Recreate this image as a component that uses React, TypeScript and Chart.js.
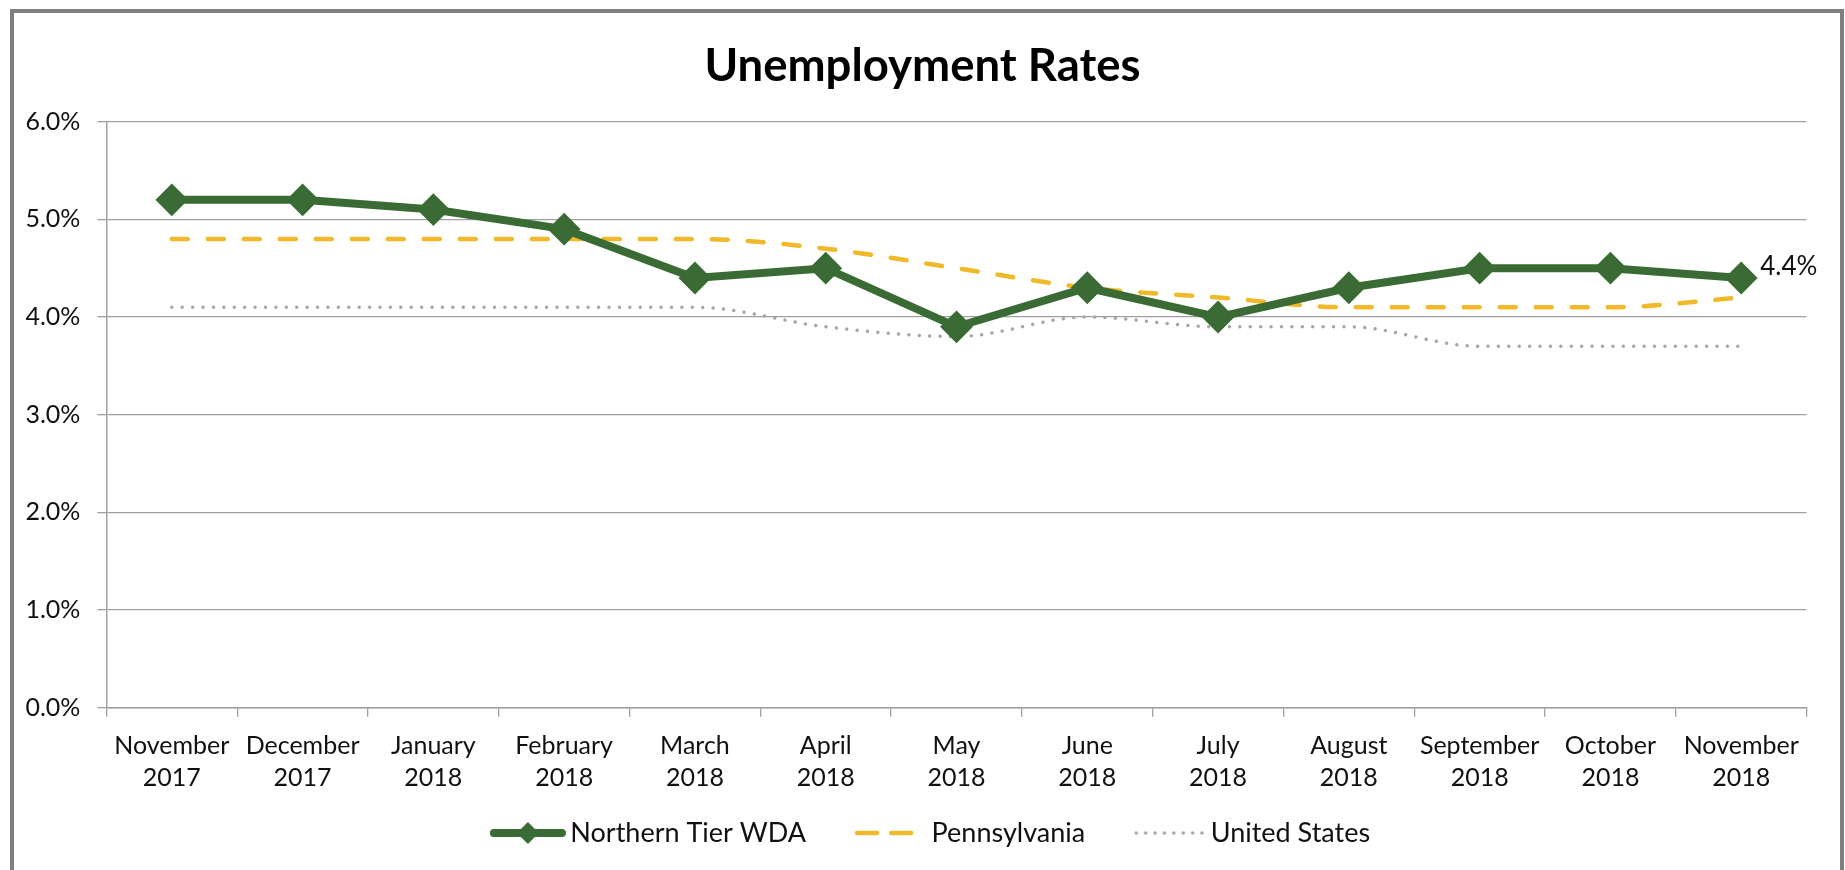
import React, { useEffect, useRef } from 'react';
import { Chart, registerables } from 'chart.js';

Chart.register(...registerables);

const categories: string[][] = [
  ['November', '2017'],
  ['December', '2017'],
  ['January', '2018'],
  ['February', '2018'],
  ['March', '2018'],
  ['April', '2018'],
  ['May', '2018'],
  ['June', '2018'],
  ['July', '2018'],
  ['August', '2018'],
  ['September', '2018'],
  ['October', '2018'],
  ['November', '2018'],
];
const northernTier = [5.2, 5.2, 5.1, 4.9, 4.4, 4.5, 3.9, 4.3, 4.0, 4.3, 4.5, 4.5, 4.4];
const pennsylvania = [4.8, 4.8, 4.8, 4.8, 4.8, 4.7, 4.5, 4.3, 4.2, 4.1, 4.1, 4.1, 4.2];
const unitedStates = [4.1, 4.1, 4.1, 4.1, 4.1, 3.9, 3.8, 4.0, 3.9, 3.9, 3.7, 3.7, 3.7];
const seriesNames = ['Northern Tier WDA', 'Pennsylvania', 'United States'];
const yMin = 0;
const yMax = 6;
const yStep = 1;
const titleText = 'Unemployment Rates';

const FONT = 'Lato, "Open Sans", sans-serif';
const GREEN = '#3a6b35';
const GOLD = '#f0b929';
const GRAY = '#a6a6a6';
const GRID = '#a0a0a0';
const TEXT = '#111111';

// legend geometry
const LEG_FONT = 27;
const LEG_PAD = 30;
const LEG_BOX = 82;
const SYM_W = 100;
const SYM_OFF = 24;

function makeSymbol(kind: 'green' | 'gold' | 'gray'): HTMLCanvasElement {
  const c = document.createElement('canvas');
  c.width = SYM_W;
  c.height = 26;
  const g = c.getContext('2d')!;
  const cy = 13;
  const x0 = SYM_OFF;
  g.lineCap = 'round';
  if (kind === 'green') {
    g.strokeStyle = GREEN;
    g.lineWidth = 8;
    g.beginPath();
    g.moveTo(x0 + 4, cy);
    g.lineTo(x0 + 72, cy);
    g.stroke();
    g.fillStyle = GREEN;
    g.beginPath();
    g.moveTo(x0 + 38 - 11, cy);
    g.lineTo(x0 + 38, cy - 11);
    g.lineTo(x0 + 38 + 11, cy);
    g.lineTo(x0 + 38, cy + 11);
    g.closePath();
    g.fill();
  } else if (kind === 'gold') {
    g.strokeStyle = GOLD;
    g.lineWidth = 4.5;
    g.beginPath();
    g.moveTo(x0 + 6, cy);
    g.lineTo(x0 + 26, cy);
    g.moveTo(x0 + 40, cy);
    g.lineTo(x0 + 60, cy);
    g.stroke();
  } else {
    g.fillStyle = GRAY;
    for (let i = 0; i < 8; i++) {
      g.beginPath();
      g.arc(x0 + 6 + i * 9.4, cy, 1.8, 0, Math.PI * 2);
      g.fill();
    }
  }
  return c;
}

const lastValueLabel = {
  id: 'lastValueLabel',
  afterDatasetsDraw(chart: any) {
    const meta = chart.getDatasetMeta(0);
    const idx = meta.data.length - 1;
    const pt = meta.data[idx];
    const ctx = chart.ctx;
    ctx.save();
    ctx.font = `26px ${FONT}`;
    ctx.fillStyle = TEXT;
    ctx.textAlign = 'left';
    ctx.textBaseline = 'middle';
    ctx.fillText(`${northernTier[idx].toFixed(1)}%`, pt.x + 19, pt.y - 11);
    ctx.restore();
  },
};

export default function App() {
  const ref = useRef<HTMLCanvasElement | null>(null);

  useEffect(() => {
    if (!ref.current) return;
    const symbols = [makeSymbol('green'), makeSymbol('gold'), makeSymbol('gray')];
    const chart = new Chart(ref.current, {
      type: 'line',
      data: {
        labels: categories,
        datasets: [
          {
            label: seriesNames[0],
            data: northernTier,
            borderColor: GREEN,
            backgroundColor: GREEN,
            borderWidth: 8,
            pointStyle: 'rectRot',
            pointRadius: 15,
            pointBorderWidth: 2,
            pointBackgroundColor: GREEN,
            pointBorderColor: GREEN,
            tension: 0,
          },
          {
            label: seriesNames[1],
            data: pennsylvania,
            borderColor: GOLD,
            backgroundColor: GOLD,
            borderWidth: 4.5,
            borderDash: [16, 20],
            borderCapStyle: 'round',
            pointRadius: 0,
            cubicInterpolationMode: 'monotone',
          },
          {
            label: seriesNames[2],
            data: unitedStates,
            borderColor: GRAY,
            backgroundColor: GRAY,
            borderWidth: 3.5,
            borderDash: [0.01, 10.4],
            borderCapStyle: 'round',
            pointRadius: 0,
            cubicInterpolationMode: 'monotone',
          },
        ],
      },
      options: {
        animation: false,
        responsive: false,
        maintainAspectRatio: false,
        layout: { padding: { left: 0, right: 0, top: 0, bottom: 13.5 } },
        plugins: {
          title: {
            display: true,
            text: titleText,
            color: '#000000',
            font: { family: FONT, size: 45.5, weight: 'bold', lineHeight: 1.2 },
            padding: { top: 39, bottom: 28.1 },
          },
          legend: {
            position: 'bottom',
            labels: {
              usePointStyle: true,
              pointStyleWidth: LEG_BOX,
              padding: LEG_PAD,
              color: TEXT,
              font: { family: FONT, size: LEG_FONT },
              generateLabels: (ch: any) => {
                const items = Chart.defaults.plugins.legend.labels.generateLabels(ch);
                items.forEach((it: any, i: number) => {
                  it.pointStyle = symbols[i];
                });
                return items;
              },
            },
          },
          tooltip: { enabled: false },
        },
        scales: {
          x: {
            type: 'category',
            offset: true,
            grid: {
              offset: true,
              drawOnChartArea: false,
              drawTicks: true,
              tickLength: 9,
              color: GRID,
              lineWidth: 1.3,
            },
            border: { color: GRID, width: 1.5 },
            ticks: {
              color: TEXT,
              font: { family: FONT, size: 25, lineHeight: 1.28 },
              padding: 13.5,
              maxRotation: 0,
              autoSkip: false,
            },
            afterFit: (s: any) => {
              s.height = 81.8;
            },
          },
          y: {
            min: yMin,
            max: yMax,
            ticks: {
              stepSize: yStep,
              color: TEXT,
              font: { family: FONT, size: 25 },
              padding: 17,
              callback: (v: any) => `${Number(v).toFixed(1)}%`,
            },
            grid: { color: GRID, tickLength: 9, lineWidth: 1.3 },
            border: { color: GRID, width: 1.5 },
            afterFit: (s: any) => {
              s.width = 106.4;
            },
          },
          yR: {
            position: 'right',
            display: true,
            grid: { display: false },
            border: { display: false },
            ticks: { display: false },
            afterFit: (s: any) => {
              s.width = 38.4;
            },
          },
        },
      } as any,
      plugins: [lastValueLabel],
    });
    return () => chart.destroy();
  }, []);

  return (
    <div
      style={{
        position: 'fixed',
        left: 0,
        top: 0,
        width: 1845,
        height: 870,
        overflow: 'hidden',
        background: '#ffffff',
      }}
    >
      <canvas ref={ref} width={1845} height={870} style={{ display: 'block', width: 1845, height: 870 }} />
      <div
        style={{
          position: 'absolute',
          left: 10,
          top: 9,
          width: 1834,
          height: 950,
          border: '4px solid #7f7f7f',
          boxSizing: 'border-box',
          pointerEvents: 'none',
        }}
      />
    </div>
  );
}
